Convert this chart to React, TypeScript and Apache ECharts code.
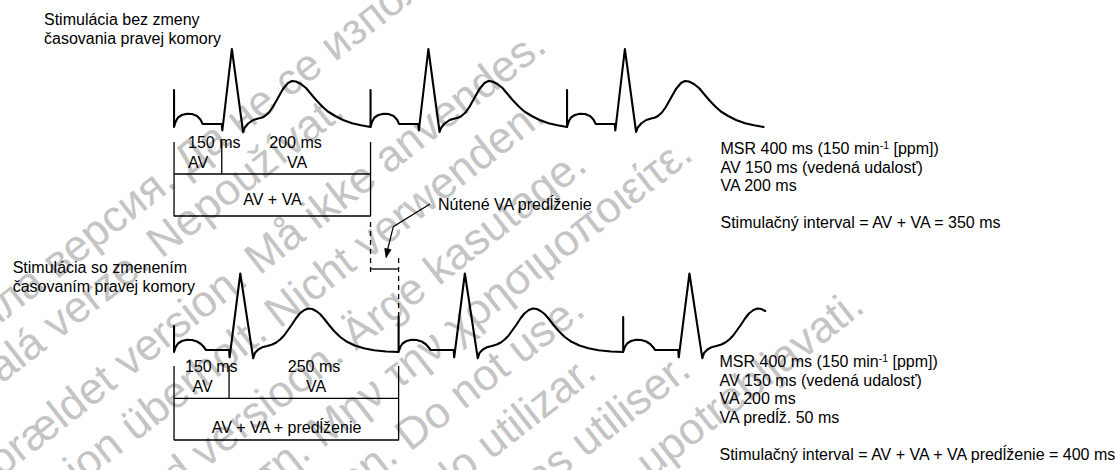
import React, { useEffect, useRef } from 'react';
import * as echarts from 'echarts';

// ---------------- DATA ----------------
// Top trace: pacing without right-ventricular timing change (cycle 350 ms)
const topSpikeTimes = [0, 350, 700]; // ms, pacing spikes
const topSpikeHeights = [37, 37, 37]; // a.u.
const topLastBeatEnd = 350; // ms after last spike where the trace stops
// one beat: [ms after spike, amplitude a.u.]
const topBeat: [number, number][] = [
  [0, 0], [3, 5.5], [7, 9.5], [14, 12], [23, 13.2], [32, 13], [41, 11], [47, 7.5], [51, 3],
  [85, 3], [86, -3.5], [103, 78], [123, -5], [126, -0.5], [132, 3.5], [141, 7], [150, 8.5],
  [157, 9.5], [162, 11], [169, 14.5], [176, 20], [185, 29], [194, 38], [203, 44], [210, 46],
  [217, 45.5], [226, 43], [235, 39], [244, 33], [253, 27], [264, 20.5], [274, 15.5], [287, 11],
  [301, 7], [317, 3.7], [333, 1.7], [350, 0],
];

// Bottom trace: pacing with right-ventricular timing change (cycle 400 ms)
const bottomSpikeTimes = [0, 400, 800];
const bottomSpikeHeights = [26, 35, 35];
const bottomLastBeatEnd = 253;
const bottomBeat: [number, number][] = [
  [0, 0], [3, 5], [7, 8.5], [14, 11], [23, 12.2], [32, 12], [41, 10.5], [48, 8], [53, 5], [57, 2],
  [98, 2], [99, -5.3], [118, 78.5], [141, -6.3], [144, -1], [150, 2.5], [157, 4.7], [166, 6],
  [175, 7.5], [182, 9.5], [189, 12.5], [196, 16.5], [203, 22], [210, 27.5], [217, 33.5],
  [224, 38.5], [232, 42], [239, 43.5], [246, 43], [253, 41], [260, 38], [267, 33.5], [276, 27],
  [285, 21], [296, 15], [308, 10.2], [322, 6.5], [338, 3.7], [356, 1.7], [378, 0.5], [400, 0],
];

// interval brackets: [start, ventricular event, end] in ms
const topBoxEdges = [0, 85, 350];
const bottomBoxEdges = [0, 98, 400];
const extensionEdges = [350, 400]; // forced VA extension

// labels
const topTitle = ['Stimulácia bez zmeny', 'časovania pravej komory'];
const bottomTitle = ['Stimulácia so zmenením', 'časovaním pravej komory'];
const topBoxLabels = ['150 ms', 'AV', '200 ms', 'VA', 'AV + VA'];
const bottomBoxLabels = ['150 ms', 'AV', '250 ms', 'VA', 'AV + VA + predĺženie'];
const extensionLabel = 'Nútené VA predĺženie';
const topInfo = [
  'MSR 400 ms (150 min{sup|-1} [ppm])',
  'AV 150 ms (vedená udalosť)',
  'VA 200 ms',
  '',
  'Stimulačný interval = AV + VA = 350 ms',
];
const bottomInfo = [
  'MSR 400 ms (150 min{sup|-1} [ppm])',
  'AV 150 ms (vedená udalosť)',
  'VA 200 ms',
  'VA predĺž. 50 ms',
  '',
  'Stimulačný interval = AV + VA + VA predĺženie = 400 ms',
];
const watermarks = [
  'Застаряла версия. Да не се използва.',
  'Zastaralá verze. Nepoužívat.',
  'Forældet version. Må ikke anvendes.',
  'Version überholt. Nicht verwenden.',
  'Aegunud versioon. Ärge kasutage.',
  'Παλιά έκδοση. Μην την χρησιμοποιείτε.',
  'Outdated version. Do not use.',
  'Versión obsoleta. No utilizar.',
  'Version périmée. Ne pas utiliser.',
  'Zastarjela verzija. Nemojte upotrebljavati.',
];

// ---------------- BUILD ----------------
const FONT = '"Liberation Sans", Arial, Helvetica, sans-serif';
const FS = 16;

function buildTrace(times: number[], heights: number[], beat: [number, number][], lastEnd: number) {
  const data: number[][] = [];
  times.forEach((t0, i) => {
    data.push([t0, heights[i]]);
    const limit = i < times.length - 1 ? times[i + 1] - t0 : lastEnd;
    beat.forEach(([dt, a]) => {
      if (dt <= limit) data.push([t0 + dt, a]);
    });
  });
  return data;
}

function seg(grid: number, pts: number[][], width: number, dashed = false) {
  return {
    type: 'line',
    xAxisIndex: grid,
    yAxisIndex: grid,
    data: pts,
    symbol: 'none',
    showSymbol: false,
    silent: true,
    lineStyle: { color: '#000', width, type: dashed ? [5, 4] : 'solid', cap: 'butt' },
    z: 3,
  };
}

function label(text: string, x: number, y: number, align = 'left') {
  return {
    type: 'text',
    x,
    y,
    z: 50,
    silent: true,
    style: {
      text,
      fontSize: FS,
      fontFamily: FONT,
      fill: '#000',
      align,
      textAlign: align,
      verticalAlign: 'middle',
      textVerticalAlign: 'middle',
    },
  };
}

function block(lines: string[], x: number, top: number) {
  return {
    type: 'text',
    x,
    y: top,
    z: 50,
    silent: true,
    style: {
      text: lines.join('\n'),
      fontSize: FS,
      lineHeight: 18.6,
      fontFamily: FONT,
      fill: '#000',
      align: 'left',
      verticalAlign: 'top',
      rich: {
        sup: { fontSize: 10.5, lineHeight: 11, verticalAlign: 'top', fontFamily: FONT, fill: '#000' },
      },
    },
  };
}

export default function App() {
  const ref = useRef<HTMLDivElement>(null);
  useEffect(() => {
    const chart = echarts.init(ref.current!, null, { renderer: 'svg' });

    const topData = buildTrace(topSpikeTimes, topSpikeHeights, topBeat, topLastBeatEnd);
    const bottomData = buildTrace(bottomSpikeTimes, bottomSpikeHeights, bottomBeat, bottomLastBeatEnd);

    // bracket levels (amplitude units below baseline)
    const tA = -15, tM = -47, tB = -89;
    const bA = -14, bM = -46.3, bB = -88;
    const [t0, tv, t1] = topBoxEdges;
    const [b0, bv, b1] = bottomBoxEdges;
    const [e0, e1] = extensionEdges;

    const series: any[] = [
      { ...seg(0, topData, 2.1), lineStyle: { color: '#000', width: 2.1, join: 'round', cap: 'round' } },
      { ...seg(1, bottomData, 2.1), lineStyle: { color: '#000', width: 2.1, join: 'round', cap: 'round' } },
      seg(0, [[t0, tA], [t0, tB], [t1, tB], [t1, tA]], 1.3),
      seg(0, [[t0, tM], [t1, tM]], 1.3),
      seg(0, [[tv, tA], [tv, tM]], 1.3),
      seg(1, [[b0, bA], [b0, bB], [b1, bB], [b1, bA]], 1.3),
      seg(1, [[b0, bM], [b1, bM]], 1.3),
      seg(1, [[bv, bA], [bv, bM]], 1.3),
      seg(1, [[e0, 130], [e0, 79]], 1.3, true),
      seg(1, [[e1, 94], [e1, bottomSpikeHeights[1]]], 1.3, true),
      seg(1, [[e0, 83], [e1, 83]], 1.3),
    ];

    // watermark layout: angle, start along text direction, line offsets
    const th = (38 * Math.PI) / 180;
    const d = [Math.cos(th), -Math.sin(th)];
    const n = [Math.sin(th), Math.cos(th)];
    const shifts = [[-40, -15], [-45, -23], [-5, -6], [-10, -8], [0, 0], [0, 0], [0, 0], [0, 0], [0, 0], [0, 0]];
    const wm = watermarks.map((text, i) => {
      const N = 255 + 56.4 * i + shifts[i][1];
      const s = -315 + shifts[i][0];
      return {
        type: 'text',
        x: s * d[0] + N * n[0],
        y: s * d[1] + N * n[1],
        rotation: th,
        z: 0,
        silent: true,
        style: { text, fontSize: 44, fontFamily: FONT, fill: '#c4c4c4', align: 'left', verticalAlign: 'middle' },
      };
    });

    const graphics: any[] = [
      ...wm,
      label(topTitle[0], 44, 19.5),
      label(topTitle[1], 44, 38),
      label(topBoxLabels[0], 188, 142.2),
      label(topBoxLabels[1], 198, 162.2, 'center'),
      label(topBoxLabels[2], 295.5, 142.2, 'center'),
      label(topBoxLabels[3], 297, 162.2, 'center'),
      label(topBoxLabels[4], 272.5, 199.5, 'center'),
      label(extensionLabel, 438, 204.5),
      block(topInfo, 720.5, 139.3),
      label(bottomTitle[0], 12.7, 267.8),
      label(bottomTitle[1], 12.7, 286.5),
      label(bottomBoxLabels[0], 185, 366.8),
      label(bottomBoxLabels[1], 202.5, 386.2, 'center'),
      label(bottomBoxLabels[2], 314, 366.8, 'center'),
      label(bottomBoxLabels[3], 316, 386.2, 'center'),
      label(bottomBoxLabels[4], 286.5, 427.8, 'center'),
      block(bottomInfo, 719.5, 352.3),
      {
        type: 'polyline',
        z: 40,
        silent: true,
        shape: { points: [[430, 204], [393.3, 226.7], [387.5, 250]] },
        style: { stroke: '#000', lineWidth: 1.2, fill: null },
      },
      {
        type: 'polygon',
        z: 40,
        silent: true,
        shape: { points: [[386, 258], [391.2, 249.6], [384.6, 248.3]] },
        style: { fill: '#000', stroke: '#000', lineWidth: 0.5 },
      },
    ];

    chart.setOption({
      animation: false,
      backgroundColor: '#ffffff',
      grid: [
        { left: 0, right: 0, top: 0, bottom: 0 },
        { left: 0, right: 0, top: 0, bottom: 0 },
      ],
      xAxis: [
        { type: 'value', gridIndex: 0, min: -310, max: 1676, show: false },
        { type: 'value', gridIndex: 1, min: -310, max: 1676, show: false },
      ],
      yAxis: [
        { type: 'value', gridIndex: 0, min: -343, max: 127, show: false },
        { type: 'value', gridIndex: 1, min: -118, max: 352, show: false },
      ],
      series,
      graphic: { elements: graphics },
    });
    return () => chart.dispose();
  }, []);
  return (
    <div
      ref={ref}
      style={{ position: 'fixed', left: 0, top: 0, width: 1115, height: 470, background: '#fff' }}
    />
  );
}
